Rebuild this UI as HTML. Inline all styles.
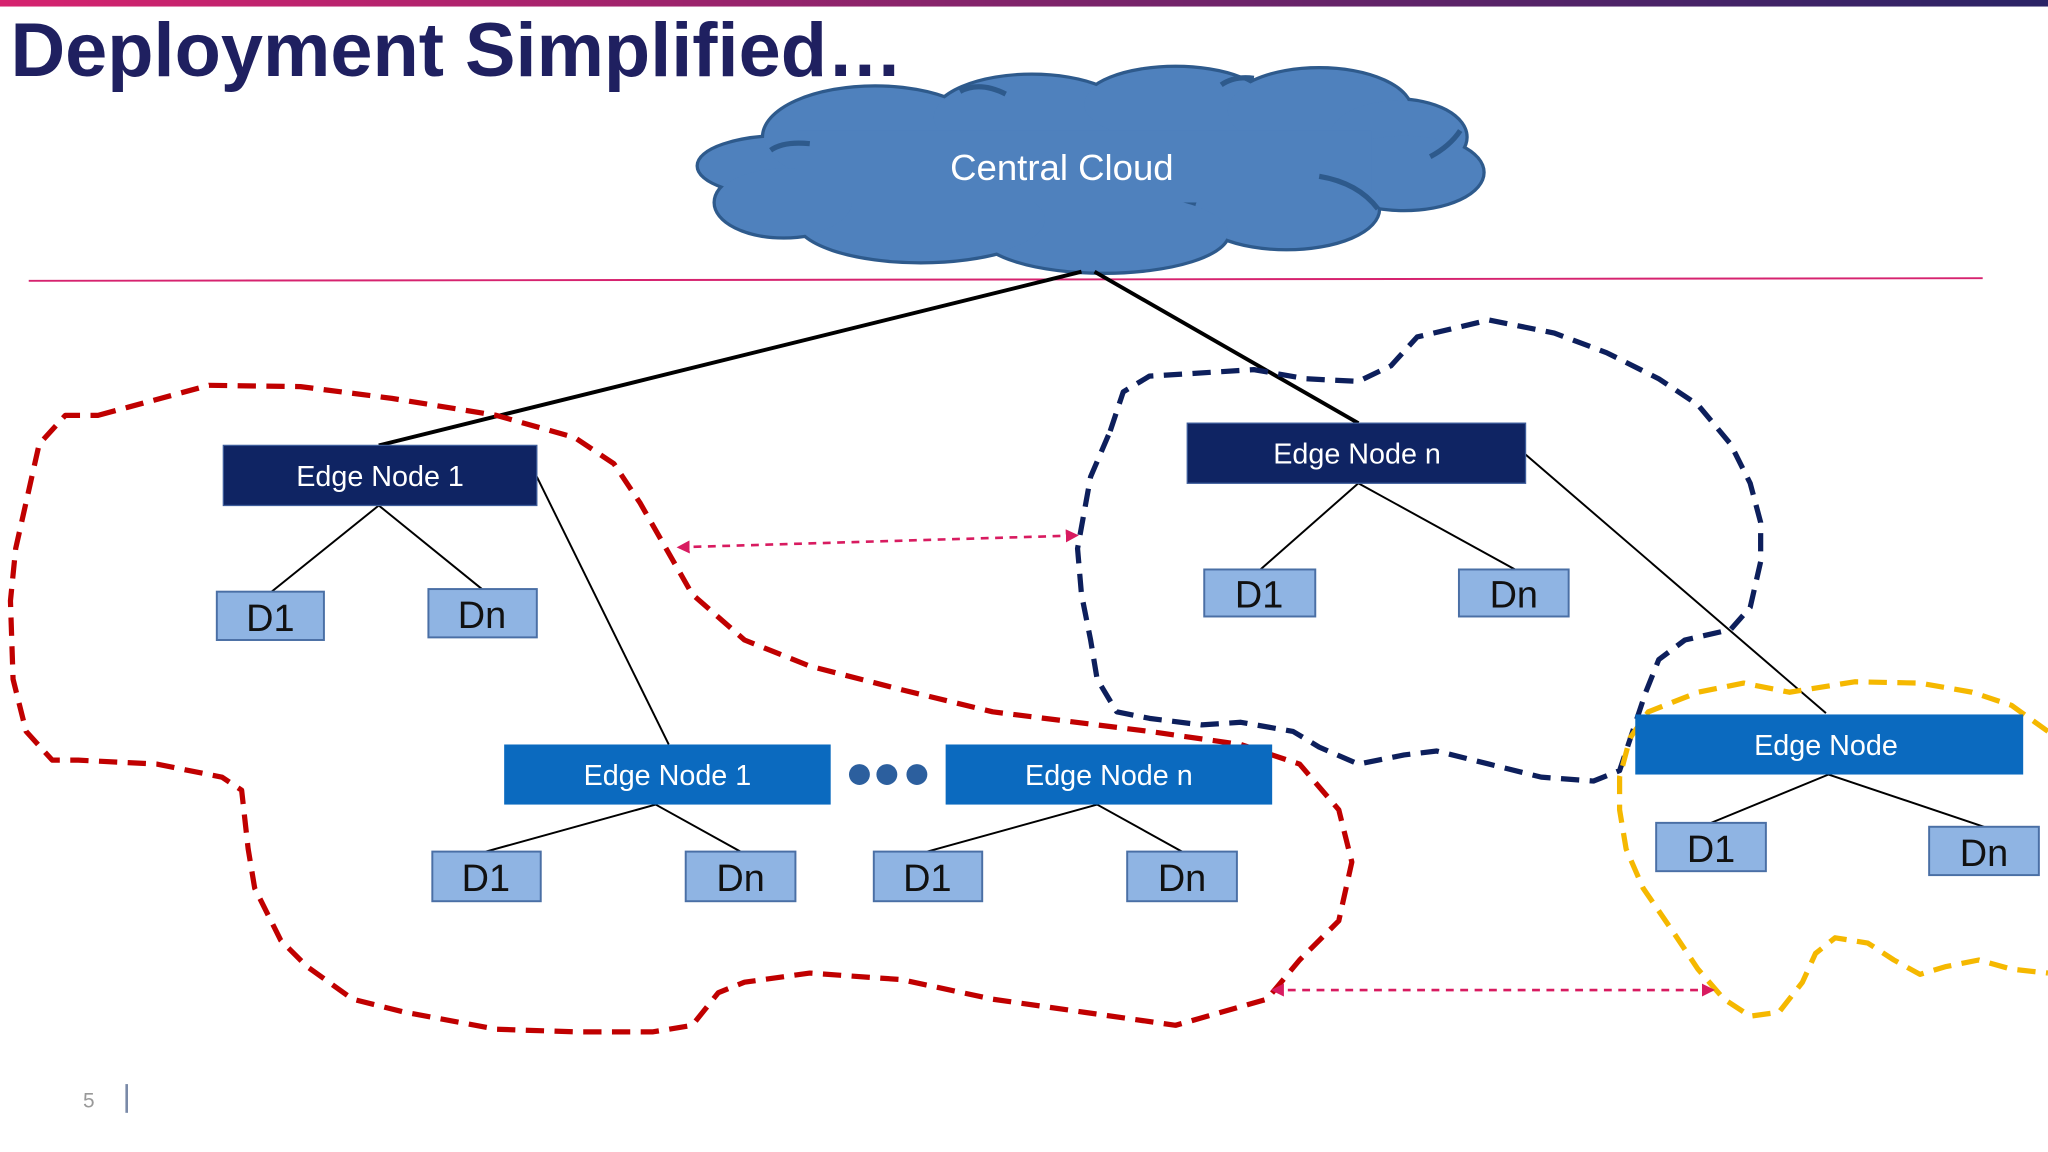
<!DOCTYPE html>
<html><head><meta charset="utf-8">
<style>
html,body{margin:0;padding:0;background:#fff;}
svg{display:block;}
text{font-family:"Liberation Sans",sans-serif;}
</style></head>
<body>
<svg width="2048" height="1152" viewBox="0 0 1568 882" xmlns="http://www.w3.org/2000/svg">
<defs>
<linearGradient id="bar" x1="0" x2="1"><stop offset="0" stop-color="#d6236f"/><stop offset="1" stop-color="#2a2466"/></linearGradient>
<marker id="ah" markerWidth="10" markerHeight="10" refX="8" refY="5" orient="auto-start-reverse" markerUnits="userSpaceOnUse"><path d="M0,0 L10,5 L0,10 Z" fill="#d81b60"/></marker>
</defs>
<rect x="0" y="0" width="1568" height="5" fill="url(#bar)"/>
<text x="8" y="58" font-size="58" font-weight="bold" fill="#1f2060">Deployment Simplified…</text>

<!-- cloud -->
<g stroke="#2e5a8c" stroke-width="5" fill="#4f81bd">
<ellipse cx="600" cy="127" rx="65" ry="22"/>
<ellipse cx="670" cy="105" rx="85" ry="38"/>
<ellipse cx="790" cy="90" rx="75" ry="32"/>
<ellipse cx="900" cy="80" rx="70" ry="28"/>
<ellipse cx="1010" cy="85" rx="70" ry="32"/>
<ellipse cx="1070" cy="105" rx="52" ry="28"/>
<ellipse cx="1075" cy="132" rx="60" ry="28"/>
<ellipse cx="985" cy="160" rx="70" ry="30"/>
<ellipse cx="845" cy="178" rx="95" ry="30"/>
<ellipse cx="705" cy="168" rx="95" ry="32"/>
<ellipse cx="600" cy="155" rx="52" ry="26"/>
</g>
<g fill="#4f81bd">
<ellipse cx="600" cy="127" rx="65" ry="22"/>
<ellipse cx="670" cy="105" rx="85" ry="38"/>
<ellipse cx="790" cy="90" rx="75" ry="32"/>
<ellipse cx="900" cy="80" rx="70" ry="28"/>
<ellipse cx="1010" cy="85" rx="70" ry="32"/>
<ellipse cx="1070" cy="105" rx="52" ry="28"/>
<ellipse cx="1075" cy="132" rx="60" ry="28"/>
<ellipse cx="985" cy="160" rx="70" ry="30"/>
<ellipse cx="845" cy="178" rx="95" ry="30"/>
<ellipse cx="705" cy="168" rx="95" ry="32"/>
<ellipse cx="600" cy="155" rx="52" ry="26"/>
<rect x="610" y="100" width="440" height="55"/>
</g>
<g fill="none" stroke="#2e5a8c" stroke-width="4">
<path d="M590,115 Q600,108 620,110"/>
<path d="M1010,135 Q1040,140 1055,160"/>
<path d="M1095,120 Q1110,112 1118,100"/>
<path d="M735,70 Q750,62 770,72"/>
<path d="M935,65 Q945,58 960,60"/>
</g>
<text x="813" y="138" font-size="28" fill="#fff" text-anchor="middle">Central Cloud</text>

<line x1="22" y1="215" x2="1518" y2="213" stroke="#d6236f" stroke-width="1.5"/>

<!-- connectors -->
<g stroke="#000" stroke-width="3">
<line x1="828" y1="208" x2="290" y2="341"/>
<line x1="838" y1="208" x2="1040" y2="324"/>
</g>
<g stroke="#000" stroke-width="1.5">
<line x1="290" y1="387" x2="208" y2="453"/><line x1="290" y1="387" x2="369" y2="451"/>
<line x1="1040" y1="370" x2="965" y2="436"/><line x1="1040" y1="370" x2="1160" y2="436"/>
<line x1="411" y1="365" x2="512" y2="570"/>
<line x1="1168" y1="348" x2="1398" y2="546"/>
<line x1="502" y1="616" x2="372" y2="652"/><line x1="502" y1="616" x2="567" y2="652"/>
<line x1="840" y1="616" x2="710" y2="652"/><line x1="840" y1="616" x2="905" y2="652"/>
<line x1="1400" y1="593" x2="1310" y2="630"/><line x1="1400" y1="593" x2="1519" y2="633"/>
</g>

<!-- dashed regions -->
<path d="M75,318 L160,295 L230,296 L300,305 L380,318 L440,335 L470,355 L490,385 L530,455 L570,490 L620,510 L690,528 L760,545 L880,560 L950,570 L995,585 L1025,620 L1035,660 L1025,705 L995,735 L970,765 L900,785 L830,775 L760,765 L690,750 L620,745 L570,752 L550,760 L530,785 L500,790 L440,790 L380,788 L310,775 L270,765 L235,740 L215,720 L195,680 L190,650 L185,605 L170,595 L120,585 L60,582 L40,582 L20,560 L10,520 L8,460 L12,420 L30,340 L50,318 Z" fill="none" stroke="#c00000" stroke-width="4" stroke-dasharray="14 8" stroke-linejoin="round"/>
<path d="M850,330 L860,300 L880,288 L960,283 L1000,290 L1040,292 L1065,280 L1085,258 L1140,245 L1190,255 L1230,270 L1270,290 L1300,310 L1325,340 L1340,370 L1348,400 L1348,430 L1340,465 L1325,482 L1290,490 L1270,505 L1260,530 L1250,560 L1240,590 L1220,598 L1180,595 L1140,585 L1100,575 L1075,578 L1040,585 L1010,572 L990,560 L950,553 L920,555 L880,550 L855,545 L840,520 L835,490 L828,455 L825,420 L835,365 Z" fill="none" stroke="#0d1f5c" stroke-width="4" stroke-dasharray="14 8" stroke-linejoin="round"/>
<path d="M1568,560 L1540,540 L1510,530 L1470,523 L1420,522 L1370,530 L1335,523 L1300,530 L1262,545 L1248,565 L1240,595 L1240,620 L1245,650 L1258,680 L1280,712 L1300,742 L1320,765 L1340,778 L1362,775 L1380,752 L1390,730 L1405,718 L1430,722 L1450,735 L1470,746 L1490,740 L1515,735 L1540,742 L1568,745" fill="none" stroke="#f5b800" stroke-width="4" stroke-dasharray="14 8" stroke-linejoin="round"/>

<!-- arrows -->
<line x1="520" y1="419" x2="824" y2="410" stroke="#d81b60" stroke-width="2" stroke-dasharray="6 5" marker-start="url(#ah)" marker-end="url(#ah)"/>
<line x1="975" y1="758" x2="1311" y2="758" stroke="#d81b60" stroke-width="2" stroke-dasharray="6 5" marker-start="url(#ah)" marker-end="url(#ah)"/>

<!-- boxes -->
<g font-size="22" fill="#fff" text-anchor="middle">
<rect x="171" y="341" width="240" height="46" fill="#0f2463" stroke="#3d5c9a"/>
<text x="291" y="372">Edge Node 1</text>
<rect x="909" y="324" width="259" height="46" fill="#0f2463" stroke="#3d5c9a"/>
<text x="1039" y="355">Edge Node n</text>
<rect x="386" y="570" width="250" height="46" fill="#0b6abf"/>
<text x="511" y="601">Edge Node 1</text>
<rect x="724" y="570" width="250" height="46" fill="#0b6abf"/>
<text x="849" y="601">Edge Node n</text>
<rect x="1252" y="547" width="297" height="46" fill="#0b6abf"/>
<text x="1398" y="578">Edge Node</text>
</g>
<g fill="#2c5f9e"><circle cx="658" cy="593" r="8"/><circle cx="679" cy="593" r="8"/><circle cx="702" cy="593" r="8"/></g>

<g fill="#8fb4e3" stroke="#4a6fa5" stroke-width="1.5">
<rect x="166" y="453" width="82" height="37"/><rect x="328" y="451" width="83" height="37"/>
<rect x="922" y="436" width="85" height="36"/><rect x="1117" y="436" width="84" height="36"/>
<rect x="331" y="652" width="83" height="38"/><rect x="525" y="652" width="84" height="38"/>
<rect x="669" y="652" width="83" height="38"/><rect x="863" y="652" width="84" height="38"/>
<rect x="1268" y="630" width="84" height="37"/><rect x="1477" y="633" width="84" height="37"/>
</g>
<g font-size="29" fill="#111" text-anchor="middle">
<text x="207" y="483">D1</text><text x="369" y="481">Dn</text>
<text x="964" y="465">D1</text><text x="1159" y="465">Dn</text>
<text x="372" y="682">D1</text><text x="567" y="682">Dn</text>
<text x="710" y="682">D1</text><text x="905" y="682">Dn</text>
<text x="1310" y="660">D1</text><text x="1519" y="663">Dn</text>
</g>

<text x="68" y="848" font-size="16" fill="#999" text-anchor="middle">5</text>
<line x1="97" y1="830" x2="97" y2="852" stroke="#7a8aa8" stroke-width="2"/>
</svg>
</body></html>
